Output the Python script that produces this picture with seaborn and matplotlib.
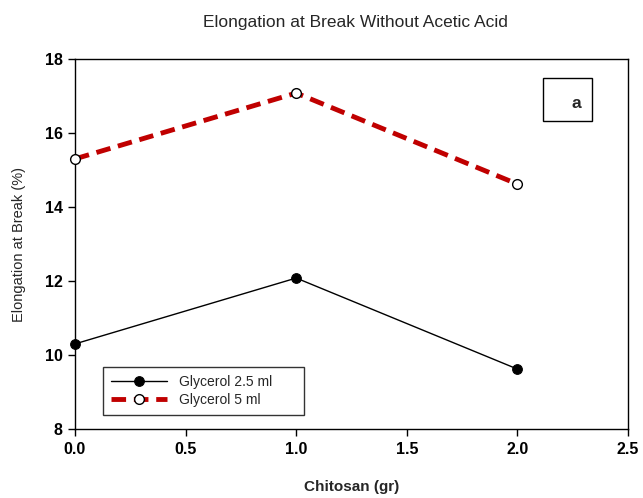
import matplotlib
matplotlib.use("Agg")
import matplotlib.pyplot as plt
from matplotlib.patches import Rectangle
import seaborn as sns
import pandas as pd

chitosan = [0.0, 1.0, 2.0]
glycerol_25 = [10.3, 12.08, 9.62]
glycerol_5 = [15.3, 17.08, 14.62]
series_names = ["Glycerol 2.5 ml", "Glycerol 5 ml"]
x_ticks = [0.0, 0.5, 1.0, 1.5, 2.0, 2.5]
y_ticks = [8, 10, 12, 14, 16, 18]

sns.set_style("ticks")
plt.rcParams['font.family'] = ['Liberation Sans', 'DejaVu Sans']

df = pd.DataFrame({
    "x": chitosan * 2,
    "y": glycerol_25 + glycerol_5,
    "s": [series_names[0]] * 3 + [series_names[1]] * 3,
})

fig = plt.figure(figsize=(6.43, 4.98), dpi=100)
ax = fig.add_axes([75/643, 69/498, 553/643, 370/498])

d1 = df[df.s == series_names[0]]
d2 = df[df.s == series_names[1]]
sns.lineplot(data=d1, x="x", y="y", ax=ax, color="black", lw=1, marker="o",
             markersize=7, markerfacecolor="black", markeredgecolor="black",
             label=series_names[0], clip_on=False, zorder=3)
sns.lineplot(data=d2, x="x", y="y", ax=ax, color="#c00000", lw=3.5, marker="o",
             markersize=7, markerfacecolor="white", markeredgecolor="black",
             markeredgewidth=1, dashes=False, linestyle=(0, (3, 1.6)),
             label=series_names[1], clip_on=False, zorder=3)

ax.set_xlim(0, 2.5)
ax.set_ylim(8, 18)
ax.set_xticks(x_ticks)
ax.set_xticklabels([f"{v:.1f}" for v in x_ticks], fontweight="bold", fontsize=11.5)
ax.set_yticks(y_ticks)
ax.set_yticklabels([str(v) for v in y_ticks], fontweight="bold", fontsize=11.5)
ax.tick_params(direction="out", length=5, width=1, colors="black", pad=4)
for sp in ax.spines.values():
    sp.set_visible(True)
    sp.set_color("black")
    sp.set_linewidth(1)

ax.set_xlabel("Chitosan (gr)", fontweight="bold", fontsize=11, labelpad=17)
ax.set_ylabel("Elongation at Break (%)", fontsize=10.5, labelpad=13)
fig.text(355/643, 1 - 22/498, "Elongation at Break Without Acetic Acid",
         ha="center", va="center", fontsize=12.5)

leg = ax.legend(loc="lower left", bbox_to_anchor=(28/553, 14/370, 201/553, 60/370),
                mode="expand", frameon=True, fancybox=False, fontsize=10,
                handlelength=4.0, borderaxespad=0, handletextpad=0.9,
                labelspacing=0.25, borderpad=0.6)
leg.get_frame().set_edgecolor("black")
leg.get_frame().set_linewidth(1)

fig.patches.append(Rectangle((543/643, 1 - 121/498), 49/643, 43/498,
                             transform=fig.transFigure, fill=True, fc="white",
                             ec="black", lw=1, zorder=5))
fig.text(576/643, 1 - 103/498, "a", ha="center", va="center", fontsize=12.5,
         fontweight="bold", zorder=6)
fig.savefig("out.png", dpi=100)
